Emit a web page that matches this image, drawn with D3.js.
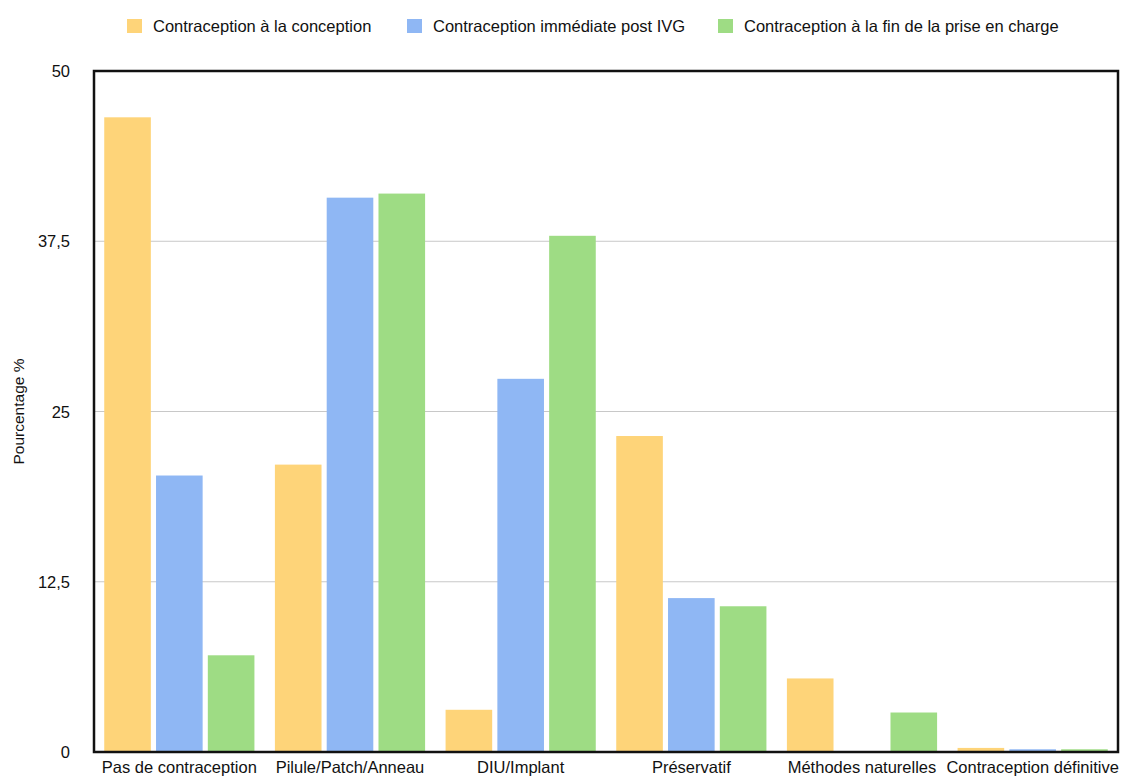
<!DOCTYPE html>
<html>
<head>
	<meta charset="utf-8">
	<title></title>
	<style>
		body { margin: 0; background: #fff; }
		text { font-family: "Liberation Sans", Arial, sans-serif; fill: #111; }
	</style>
</head>
<body>
	<svg id="container" width="1123" height="776"></svg>
</body>
<script src="https://d3js.org/d3.v7.min.js"></script>
<script>
	let categories = ["Pas de contraception", "Pilule/Patch/Anneau", "DIU/Implant", "Préservatif", "Méthodes naturelles", "Contraception définitive"]
	let series = ["Contraception à la conception", "Contraception immédiate post IVG", "Contraception à la fin de la prise en charge"]
	let conception = [46.6, 21.1, 3.1, 23.2, 5.4, 0.3]
	let postIVG = [20.3, 40.7, 27.4, 11.3, 0, 0.2]
	let finPriseEnCharge = [7.1, 41.0, 37.9, 10.7, 2.9, 0.2]
	let yTicks = [0, 12.5, 25, 37.5, 50]
	let colors = ["#FED479", "#8FB7F4", "#9EDC84"]

	let svg = d3.select("#container")
	let mLeft = 94, mTop = 71, mRight = 1118, mBottom = 752

	let x = d3.scaleBand().domain(categories).range([mLeft, mRight]).paddingInner(0.12).paddingOuter(0.06)
	let xs = d3.scaleBand().domain(series).range([0, x.bandwidth()]).paddingInner(0.1)
	let y = d3.scaleLinear().domain([0, 50]).range([mBottom, mTop])

	// gridlines
	svg.append("g").selectAll("line")
		.data(yTicks.filter(d => d > 0 && d < 50))
		.enter().append("line")
		.attr("x1", mLeft).attr("x2", mRight)
		.attr("y1", d => y(d)).attr("y2", d => y(d))
		.attr("stroke", "#c8c8c8").attr("stroke-width", 1)

	let rows = categories.map((c, i) => ({cat: c, vals: [conception[i], postIVG[i], finPriseEnCharge[i]]}))

	svg.append("g").selectAll("g")
		.data(rows)
		.enter().append("g")
		.attr("transform", d => `translate(${x(d.cat)},0)`)
		.selectAll("rect")
		.data(d => d.vals.map((v, j) => ({s: series[j], v: v, j: j})))
		.enter().append("rect")
		.attr("x", d => xs(d.s))
		.attr("width", xs.bandwidth())
		.attr("y", d => y(d.v))
		.attr("height", d => y(0) - y(d.v))
		.attr("fill", d => colors[d.j])

	// frame
	svg.append("rect")
		.attr("x", mLeft).attr("y", mTop)
		.attr("width", mRight - mLeft).attr("height", mBottom - mTop)
		.attr("fill", "none").attr("stroke", "#111").attr("stroke-width", 2.5)

	// y axis labels
	svg.append("g").selectAll("text")
		.data(yTicks)
		.enter().append("text")
		.attr("x", 70).attr("y", d => y(d) + 6)
		.attr("text-anchor", "end")
		.style("font-size", "16.5px")
		.text(d => String(d).replace(".", ","))

	svg.append("text")
		.attr("transform", `translate(24,${(mTop + mBottom) / 2}) rotate(-90)`)
		.attr("text-anchor", "middle")
		.style("font-size", "15.5px")
		.text("Pourcentage %")

	// x labels
	svg.append("g").selectAll("text")
		.data(categories)
		.enter().append("text")
		.attr("x", d => x(d) + x.bandwidth() / 2)
		.attr("y", 773)
		.attr("text-anchor", "middle")
		.style("font-size", "16.5px")
		.text(d => d)

	// legend
	let legendX = [127, 407, 718]
	let legend = svg.append("g").selectAll("g")
		.data(series)
		.enter().append("g")
		.attr("transform", (d, i) => `translate(${legendX[i]},19)`)
	legend.append("rect")
		.attr("width", 15).attr("height", 14)
		.attr("fill", (d, i) => colors[i])
	legend.append("text")
		.attr("x", 26).attr("y", 13)
		.style("font-size", "16.5px")
		.text(d => d)
</script>
</html>
